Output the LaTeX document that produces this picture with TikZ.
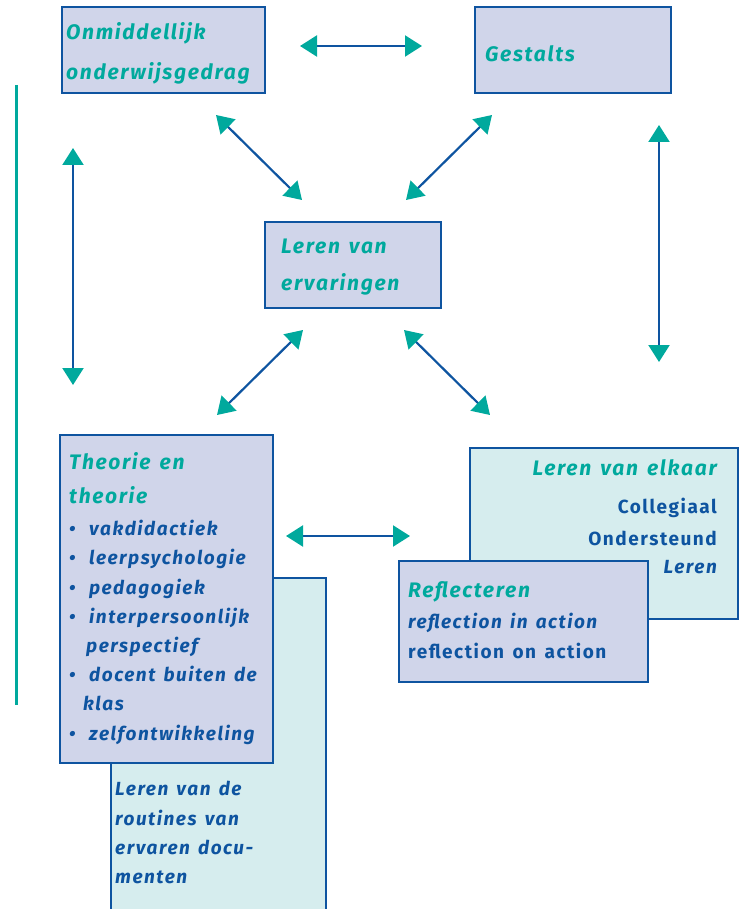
\documentclass[tikz,border=0pt]{standalone}
\usepackage{fontspec}
\setmainfont{Fira Sans}[LetterSpace=8, WordSpace=1.4]
\usetikzlibrary{arrows.meta}
\definecolor{tealc}{RGB}{0,169,157}
\definecolor{bluec}{RGB}{14,84,160}
\definecolor{lav}{RGB}{208,213,234}
\definecolor{ltteal}{RGB}{214,237,238}
\newcommand{\bul}{\makebox[20pt][l]{\textbullet}}
\tikzset{
  box/.style={draw=bluec, line width=2.2pt, fill=lav, inner sep=0pt, anchor=north west},
  boxb/.style={draw=bluec, line width=2.2pt, fill=ltteal, inner sep=0pt, anchor=north west},
  head/.style={font=\fontsize{21}{24}\selectfont\bfseries\itshape, text=tealc, anchor=base west, inner sep=0pt},
  bodyi/.style={font=\fontsize{19}{22}\selectfont\bfseries\itshape, text=bluec, anchor=base west, inner sep=0pt},
  bodyu/.style={font=\fontsize{19}{22}\selectfont\bfseries, text=bluec, anchor=base west, inner sep=0pt},
  link/.style={draw=bluec, line width=2.2pt,
    {Triangle[length=17pt,width=21pt,color=tealc]}-{Triangle[length=17pt,width=21pt,color=tealc]}},
}
\begin{document}
\begin{tikzpicture}[x=1pt,y=-1pt]
\useasboundingbox (0,0) rectangle (739,909);
% left bar
\coordinate (barT) at (16,85);
\coordinate (barB) at (16,705);
\draw[tealc, line width=3pt] (barT) -- (barB);
% boxes
\node[box, minimum width=203, minimum height=86] (onm) at (61,6) {};
\node[box, minimum width=196, minimum height=86] (ges) at (474,6) {};
\node[box, minimum width=176, minimum height=86] (erv) at (264,221) {};
\node[boxb, minimum width=215, minimum height=345] (rout) at (110,577) {};
\node[box, minimum width=213, minimum height=328] (the) at (59,434) {};
\node[boxb, minimum width=268, minimum height=171] (elk) at (469,447) {};
\node[box, minimum width=249, minimum height=121] (ref) at (398,560) {};
% texts
\node[head] (t1) at (66,40) {Onmiddellijk};
\node[head] (t2) at (66,80) {onderwijsgedrag};
\node[head] (t3) at (485,62) {Gestalts};
\node[head] (t4) at (281,253) {Leren van};
\node[head] (t5) at (281,290) {ervaringen};
\node[head] (t6) at (69,469) {Theorie en};
\node[head] (t7) at (69,503) {theorie};
\node[bodyi] (b1) at (69,535) {\bul vakdidactiek};
\node[bodyi] (b2) at (69,564) {\bul leerpsychologie};
\node[bodyi] (b3) at (69,594) {\bul pedagogiek};
\node[bodyi] (b4) at (69,623) {\bul interpersoonlijk};
\node[bodyi] (b5) at (86,652) {perspectief};
\node[bodyi] (b6) at (69,681) {\bul docent buiten de};
\node[bodyi] (b7) at (83,710) {klas};
\node[bodyi] (b8) at (69,740) {\bul zelfontwikkeling};
\node[bodyi] (r1) at (115,795) {Leren van de};
\node[bodyi] (r2) at (115,825) {routines van};
\node[bodyi] (r3) at (115,854) {ervaren docu-};
\node[bodyi] (r4) at (115,883) {menten};
\node[head, anchor=base east] (e1) at (717,475) {Leren van elkaar};
\node[bodyu, anchor=base east] (e2) at (717,513) {Collegiaal};
\node[bodyu, anchor=base east] (e3) at (717,545) {Ondersteund};
\node[bodyi, anchor=base east] (e4) at (717,573) {Leren};
\node[head] (f1) at (408,597) {Reflecteren};
\node[bodyi] (f2) at (408,628) {reflection in action};
\node[bodyu] (f3) at (408,658) {reflection on action};
% arrow endpoints
\coordinate (a1) at (300,46);  \coordinate (a2) at (422,46);
\coordinate (b1s) at (216,115); \coordinate (b1e) at (302,200);
\coordinate (b2s) at (492,115); \coordinate (b2e) at (406,200);
\coordinate (b3s) at (303,330); \coordinate (b3e) at (217,415);
\coordinate (b4s) at (404,330); \coordinate (b4e) at (490,415);
\coordinate (v1s) at (73,148); \coordinate (v1e) at (73,385);
\coordinate (v2s) at (659,125); \coordinate (v2e) at (659,362);
\coordinate (h2s) at (286,536); \coordinate (h2e) at (410,536);
\draw[link] (a1) -- (a2);
\draw[link] (b1s) -- (b1e);
\draw[link] (b2s) -- (b2e);
\draw[link] (b3s) -- (b3e);
\draw[link] (b4s) -- (b4e);
\draw[link] (v1s) -- (v1e);
\draw[link] (v2s) -- (v2e);
\draw[link] (h2s) -- (h2e);
\end{tikzpicture}
\end{document}
